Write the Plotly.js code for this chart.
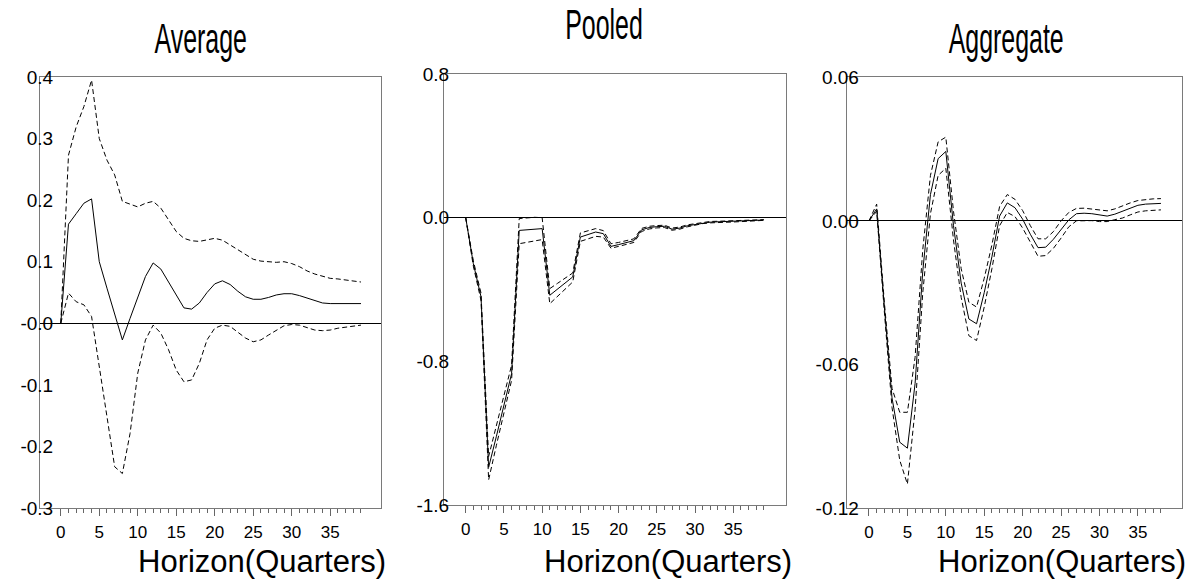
<!DOCTYPE html>
<html>
<head>
<meta charset="utf-8">
<script src="https://cdn.plot.ly/plotly-3.0.1.min.js"></script>
<style>
html,body{margin:0;padding:0;background:#fff;}
#chart{width:1195px;height:579px;}
</style>
</head>
<body>
<div id="chart"></div>
<script>
// ---------- data ----------
const panelTitles = ["Average", "Pooled", "Aggregate"];
const xAxisLabel = "Horizon(Quarters)";
const horizon = [0,1,2,3,4,5,6,7,8,9,10,11,12,13,14,15,16,17,18,19,20,21,22,23,24,25,26,27,28,29,30,31,32,33,34,35,36,37,38,39];
const horizonAgg = [0,1,2,3,4,5,6,7,8,9,10,11,12,13,14,15,16,17,18,19,20,21,22,23,24,25,26,27,28,29,30,31,32,33,34,35,36,37,38];
const xTickVals = [0,5,10,15,20,25,30,35];
const xTickText = ["0","5","10","15","20","25","30","35"];

// Average
const avgIrf = [0,0.161,0.178,0.195,0.202,0.100,0.057,0.014,-0.027,0.008,0.042,0.076,0.098,0.088,0.067,0.046,0.025,0.023,0.033,0.050,0.064,0.069,0.063,0.052,0.043,0.039,0.039,0.042,0.046,0.048,0.048,0.045,0.041,0.036,0.033,0.032,0.032,0.032,0.032,0.032];
const avgHi  = [0,0.273,0.319,0.352,0.395,0.300,0.265,0.241,0.198,0.194,0.189,0.195,0.198,0.187,0.168,0.149,0.138,0.134,0.133,0.135,0.138,0.135,0.127,0.119,0.111,0.104,0.101,0.100,0.099,0.100,0.097,0.092,0.085,0.080,0.076,0.073,0.072,0.070,0.069,0.067];
const avgLo  = [0,0.049,0.035,0.030,0.011,-0.070,-0.146,-0.233,-0.244,-0.179,-0.081,-0.027,-0.003,-0.016,-0.043,-0.076,-0.095,-0.092,-0.065,-0.027,-0.008,-0.003,-0.005,-0.014,-0.024,-0.030,-0.027,-0.019,-0.011,-0.004,-0.002,-0.003,-0.007,-0.011,-0.012,-0.011,-0.008,-0.006,-0.004,-0.003];
const avgYTicks = [-0.3,-0.2,-0.1,0,0.1,0.2,0.3,0.4];
const avgYText  = ["-0.3","-0.2","-0.1","-0.0","0.1","0.2","0.3","0.4"];

// Pooled
const poolIrf = [0,-0.256,-0.44,-1.39,-1.22,-1.04,-0.869,-0.071,-0.068,-0.065,-0.061,-0.432,-0.398,-0.364,-0.330,-0.108,-0.094,-0.080,-0.089,-0.160,-0.150,-0.140,-0.128,-0.068,-0.055,-0.050,-0.048,-0.064,-0.058,-0.045,-0.037,-0.029,-0.025,-0.023,-0.022,-0.021,-0.019,-0.017,-0.015,-0.013];
const poolHi  = [0,-0.24,-0.42,-1.33,-1.16,-0.99,-0.822,-0.005,0.000,0.002,0.000,-0.395,-0.366,-0.337,-0.308,-0.085,-0.073,-0.061,-0.072,-0.145,-0.138,-0.130,-0.118,-0.060,-0.048,-0.044,-0.042,-0.058,-0.052,-0.040,-0.033,-0.025,-0.021,-0.020,-0.019,-0.018,-0.016,-0.015,-0.013,-0.011];
const poolLo  = [0,-0.27,-0.46,-1.46,-1.27,-1.09,-0.906,-0.145,-0.138,-0.130,-0.122,-0.479,-0.439,-0.398,-0.358,-0.132,-0.118,-0.104,-0.108,-0.170,-0.160,-0.150,-0.138,-0.077,-0.063,-0.057,-0.055,-0.070,-0.064,-0.051,-0.042,-0.033,-0.029,-0.026,-0.025,-0.024,-0.022,-0.020,-0.017,-0.015];
const poolYTicks = [-1.6,-0.8,0,0.8];
const poolYText  = ["-1.6","-0.8","0.0","0.8"];

// Aggregate
const aggIrf = [0,0.005,-0.036,-0.074,-0.0925,-0.095,-0.068,-0.021,0.011,0.026,0.029,-0.002,-0.026,-0.041,-0.043,-0.030,-0.015,0.002,0.0075,0.0055,0.0007,-0.0056,-0.0112,-0.011,-0.0077,-0.0035,0.0004,0.003,0.0032,0.003,0.0025,0.002,0.0028,0.004,0.0053,0.0065,0.007,0.0072,0.0073];
const aggHi  = [0,0.007,-0.034,-0.070,-0.080,-0.080,-0.057,-0.012,0.019,0.033,0.035,0.004,-0.020,-0.034,-0.036,-0.024,-0.010,0.006,0.011,0.009,0.0043,-0.002,-0.0075,-0.0075,-0.0045,0.0000,0.0035,0.0052,0.0053,0.0050,0.0045,0.0042,0.0050,0.0063,0.0075,0.0085,0.0090,0.0092,0.0093];
const aggLo  = [0,0.004,-0.038,-0.078,-0.100,-0.110,-0.079,-0.030,0.003,0.019,0.022,-0.008,-0.032,-0.048,-0.050,-0.036,-0.020,-0.002,0.0035,0.0018,-0.003,-0.009,-0.0148,-0.0145,-0.0115,-0.0072,-0.0025,0.0000,0.0002,0.0001,-0.0003,-0.0003,0.0005,0.0012,0.0025,0.0037,0.0042,0.0045,0.0046];
const aggYTicks = [-0.12,-0.06,0,0.06];
const aggYText  = ["-0.12","-0.06","0.00","0.06"];

// ---------- figure ----------
const W = 1195, H = 579;
const FONT = "Liberation Sans, Arial, sans-serif";
const dashStyle = "5px,3px";

function line(x, y, ax, dashed) {
  return {x: x, y: y, xaxis: ax[0], yaxis: ax[1], type: "scatter", mode: "lines",
          line: {color: "#000", width: 1, dash: dashed ? dashStyle : "solid"},
          hoverinfo: "skip", showlegend: false};
}

const data = [
  line(horizon, avgHi, ["x","y"], true),
  line(horizon, avgLo, ["x","y"], true),
  line(horizon, avgIrf, ["x","y"], false),
  line(horizon, poolHi, ["x2","y2"], true),
  line(horizon, poolLo, ["x2","y2"], true),
  line(horizon, poolIrf, ["x2","y2"], false),
  line(horizonAgg, aggHi, ["x3","y3"], true),
  line(horizonAgg, aggLo, ["x3","y3"], true),
  line(horizonAgg, aggIrf, ["x3","y3"], false)
];

function fx(px){ return px / W; }
function fy(py){ return 1 - py / H; }

function xAxis(left, right, range, anchor, minorVals) {
  return {
    domain: [fx(left), fx(right)], range: range, anchor: anchor,
    showgrid: false, zeroline: false, showline: true, mirror: true,
    linecolor: "#7a7a7a", linewidth: 1,
    tickmode: "array", tickvals: xTickVals, ticktext: xTickText,
    ticks: "outside", ticklen: 7, tickwidth: 1, tickcolor: "#666",
    ticklabelstandoff: 2,
    minor: {tickmode: "array", tickvals: minorVals, ticks: "outside", ticklen: 4, tickwidth: 1, tickcolor: "#666"},
    tickfont: {family: FONT, size: 17, color: "#000"},
    fixedrange: true
  };
}
function yAxis(top, bottom, range, anchor, vals, text, standoff) {
  return {
    domain: [fy(bottom), fy(top)], range: range, anchor: anchor,
    showgrid: false, zeroline: true, zerolinecolor: "#000", zerolinewidth: 1,
    showline: true, mirror: true, linecolor: "#7a7a7a", linewidth: 1,
    tickmode: "array", tickvals: vals, ticktext: text, ticks: "",
    ticklabelstandoff: standoff,
    tickfont: {family: FONT, size: 19, color: "#000"},
    fixedrange: true
  };
}

const layout = {
  width: W, height: H,
  margin: {l: 0, r: 0, t: 0, b: 0},
  paper_bgcolor: "#fff", plot_bgcolor: "#fff",
  showlegend: false,
  xaxis:  xAxis(40, 381, [-2.7, 41.6], "y", horizon),
  yaxis:  yAxis(77, 508, [-0.3, 0.4], "x", avgYTicks, avgYText, -18),
  xaxis2: xAxis(444, 786, [-2.84, 41.9], "y2", horizon),
  yaxis2: yAxis(74, 505, [-1.6, 0.8], "x2", poolYTicks, poolYText, -10),
  xaxis3: xAxis(846.7, 1181.7, [-2.9, 40.7], "y3", horizonAgg),
  yaxis3: yAxis(77.3, 508, [-0.12, 0.06], "x3", aggYTicks, aggYText, -17),
  annotations: [
    {text: panelTitles[0], xref: "paper", yref: "paper", x: fx(200.5), y: fy(38), xanchor: "center", yanchor: "middle", showarrow: false, font: {family: FONT, size: 43, color: "#000"}},
    {text: panelTitles[1], xref: "paper", yref: "paper", x: fx(604), y: fy(24), xanchor: "center", yanchor: "middle", showarrow: false, font: {family: FONT, size: 43, color: "#000"}},
    {text: panelTitles[2], xref: "paper", yref: "paper", x: fx(1006), y: fy(38), xanchor: "center", yanchor: "middle", showarrow: false, font: {family: FONT, size: 43, color: "#000"}},
    {text: xAxisLabel, xref: "paper", yref: "paper", x: fx(262), y: fy(561), xanchor: "center", yanchor: "middle", showarrow: false, font: {family: FONT, size: 31, color: "#000"}},
    {text: xAxisLabel, xref: "paper", yref: "paper", x: fx(668), y: fy(561), xanchor: "center", yanchor: "middle", showarrow: false, font: {family: FONT, size: 31, color: "#000"}},
    {text: xAxisLabel, xref: "paper", yref: "paper", x: fx(1062), y: fy(561), xanchor: "center", yanchor: "middle", showarrow: false, font: {family: FONT, size: 31, color: "#000"}}
  ]
};

Plotly.newPlot("chart", data, layout, {staticPlot: true, displayModeBar: false}).then(function(gd){
  // condense the panel titles horizontally (the original uses a narrow face)
  const texts = gd.querySelectorAll("text.annotation-text");
  texts.forEach(function(t){
    if (panelTitles.indexOf(t.textContent) >= 0) {
      const bb = t.getBBox();
      const cx = bb.x + bb.width / 2;
      t.setAttribute("transform", "translate(" + cx + ",0) scale(0.58,1) translate(" + (-cx) + ",0)");
    }
  });
});
</script>
</body>
</html>
